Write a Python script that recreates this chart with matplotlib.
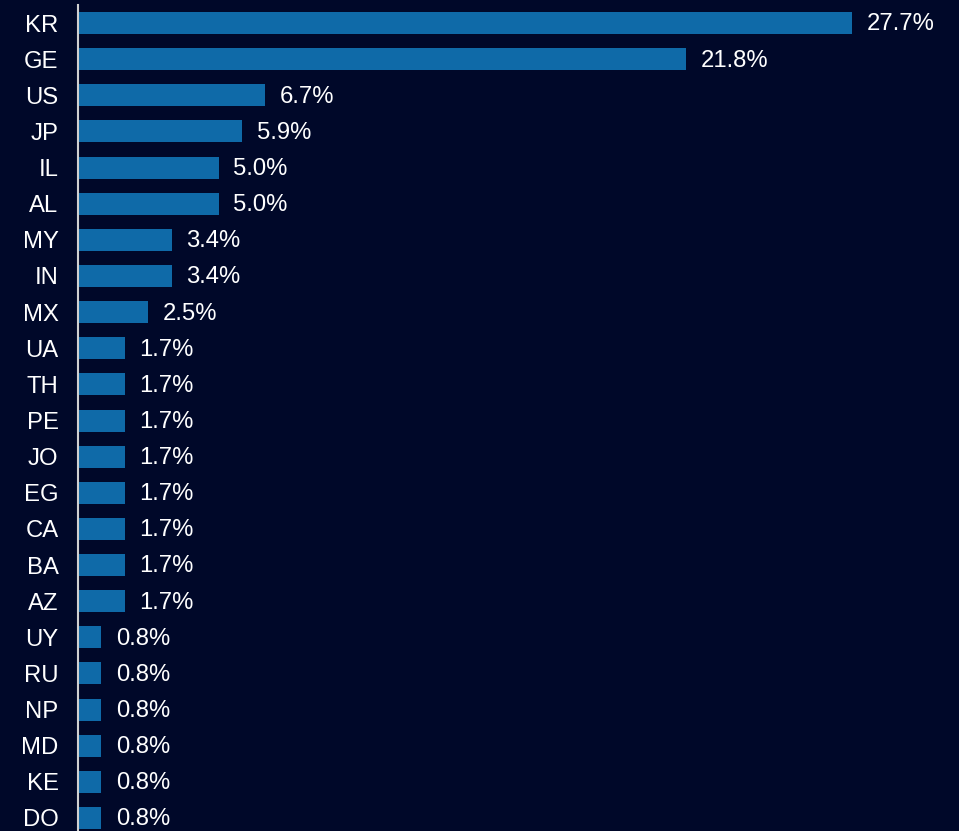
import matplotlib
matplotlib.use('Agg')
import matplotlib.pyplot as plt

countries = ['KR', 'GE', 'US', 'JP', 'IL', 'AL', 'MY', 'IN', 'MX', 'UA', 'TH', 'PE',
             'JO', 'EG', 'CA', 'BA', 'AZ', 'UY', 'RU', 'NP', 'MD', 'KE', 'DO']
# shares in percent (bar lengths, labels rounded to 1 decimal)
shares = [27.73, 21.8, 6.72, 5.88, 5.04, 5.04, 3.36, 3.36, 2.52, 1.68, 1.68, 1.68,
          1.68, 1.68, 1.68, 1.68, 1.68, 0.84, 0.84, 0.84, 0.84, 0.84, 0.84]

bg = '#000829'
bar_color = '#0f6aa8'

plt.rcParams['font.family'] = ['Liberation Sans', 'DejaVu Sans']

fig = plt.figure(figsize=(9.59, 8.31), dpi=100, facecolor=bg)
ax = fig.add_axes([78 / 959, 0, 881 / 959, 826 / 831])
ax.set_facecolor(bg)

pos = list(range(len(countries)))
ax.barh(pos, shares, height=0.61, color=bar_color)

for y, v in zip(pos, shares):
    ax.annotate('%.1f%%' % v, (v, y), xytext=(10.5, -1), textcoords='offset points',
                ha='left', va='center', color='white', fontsize=17.2, clip_on=False)

ax.set_yticks(pos)
ax.set_yticklabels(countries, color='white', fontsize=17.2)
ax.tick_params(axis='y', length=0, pad=14)
ax.set_xticks([])
ax.set_ylim(22.36, -0.5)
ax.set_xlim(0, 881 / 27.9)

for s in ['top', 'right', 'bottom']:
    ax.spines[s].set_visible(False)
ax.spines['left'].set_color('#d0d0d0')
ax.spines['left'].set_linewidth(1.5)

fig.savefig('out.png', dpi=100, facecolor=bg)
